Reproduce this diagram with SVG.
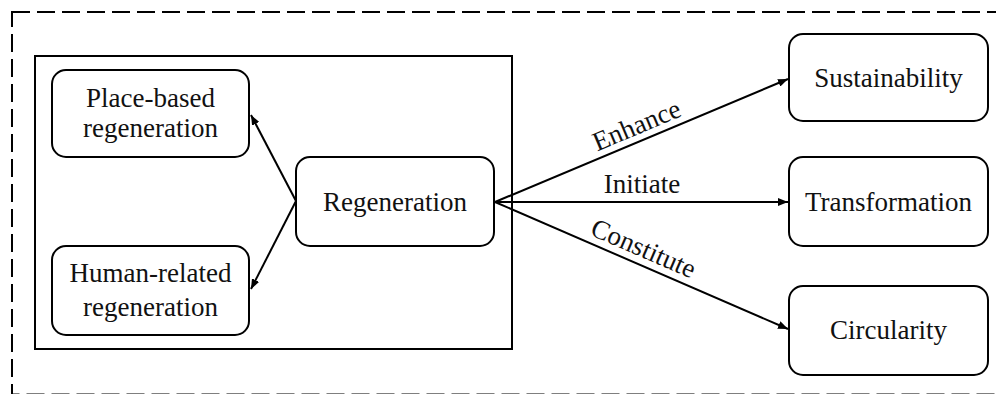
<svg xmlns="http://www.w3.org/2000/svg" width="996" height="394" viewBox="0 0 996 394">
<style>
.box{fill:#fff;stroke:#000;stroke-width:2}
.t{font-family:'Liberation Serif',serif;font-size:27px;fill:#111;text-anchor:middle}
.c{stroke:#000;stroke-width:2;fill:none;marker-end:url(#ah)}
</style>
<defs>
<marker id="ah" viewBox="0 0 10 8" refX="10" refY="4" markerWidth="10" markerHeight="8" markerUnits="userSpaceOnUse" orient="auto">
<path d="M0,0 L10,4 L0,8 Z" fill="#000"/>
</marker>
</defs>
<rect x="12" y="12" width="1000" height="382.5" fill="none" stroke="#000" stroke-width="2" stroke-dasharray="18 7"/>
<rect id="container" x="35" y="56" width="477" height="293" fill="none" stroke="#000" stroke-width="2"/>
<g id="connectors" font-family="Liberation Serif, serif">
<line class="c" x1="296" y1="201" x2="251" y2="115"/>
<line class="c" x1="296" y1="201" x2="251" y2="289"/>
<line class="c" x1="495" y1="202" x2="788" y2="79"/>
<line class="c" x1="495" y1="202" x2="788" y2="202"/>
<line class="c" x1="495" y1="202" x2="788" y2="329"/>
<text class="t" transform="translate(640,133.5) rotate(-22.8)">Enhance</text>
<text class="t" x="642" y="193">Initiate</text>
<text class="t" transform="translate(640,256.5) rotate(23.4)">Constitute</text>
</g>
<g id="place" font-family="Liberation Serif, serif">
<rect class="box" x="52" y="70" width="197" height="87" rx="14"/>
<text class="t" x="150.5" y="107">Place-based</text>
<text class="t" x="150.5" y="137">regeneration</text>
</g>
<g id="human" font-family="Liberation Serif, serif">
<rect class="box" x="52" y="246" width="197" height="89" rx="14"/>
<text class="t" x="150.5" y="282">Human-related</text>
<text class="t" x="150.5" y="316">regeneration</text>
</g>
<g id="regeneration" font-family="Liberation Serif, serif">
<rect class="box" x="296" y="157" width="198" height="89" rx="14"/>
<text class="t" x="395" y="211">Regeneration</text>
</g>
<g id="sustainability" font-family="Liberation Serif, serif">
<rect class="box" x="789" y="34" width="199" height="87" rx="14"/>
<text class="t" x="888.5" y="87">Sustainability</text>
</g>
<g id="transformation" font-family="Liberation Serif, serif">
<rect class="box" x="789" y="157" width="199" height="89" rx="14"/>
<text class="t" x="888.5" y="211">Transformation</text>
</g>
<g id="circularity" font-family="Liberation Serif, serif">
<rect class="box" x="789" y="286" width="199" height="89" rx="14"/>
<text class="t" x="888.5" y="339">Circularity</text>
</g>
</svg>
